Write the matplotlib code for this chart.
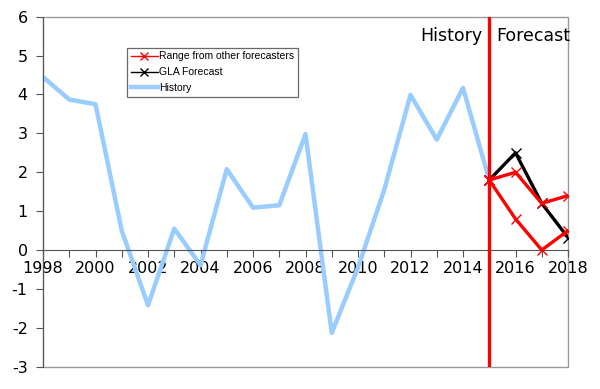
import numpy as np
import matplotlib.pyplot as plt
from matplotlib.patches import Rectangle
from matplotlib.lines import Line2D

plt.rcParams['axes.unicode_minus'] = False

# History (annual growth, %)
hist_years = list(range(1998, 2016))
hist_vals = [4.45, 3.87, 3.75, 0.5, -1.42, 0.55, -0.39, 2.08, 1.09, 1.15,
             2.98, -2.13, -0.45, 1.55, 3.99, 2.84, 4.17, 1.80]

# Forecasts
fc_years = [2015, 2016, 2017, 2018]
gla_vals = [1.80, 2.50, 1.20, 0.32]
range_hi = [1.80, 2.00, 1.20, 1.40]
range_lo = [1.80, 0.80, 0.00, 0.50]

fig = plt.figure(figsize=(6.0, 3.89), dpi=100)
ax = fig.add_axes([43 / 600, 1 - 366.7 / 389, 525 / 600, 350 / 389])

ax.plot(fc_years, range_hi, color='#ff0000', lw=2.4, marker='x', ms=7, mew=1.0, zorder=4)
ax.plot(fc_years, range_lo, color='#ff0000', lw=2.4, marker='x', ms=7, mew=1.0, zorder=4)
ax.plot(fc_years, gla_vals, color='black', lw=2.4, marker='x', ms=7, mew=1.0, zorder=3)
ax.plot(hist_years, hist_vals, color='#99ccff', lw=3.2, zorder=2)

ax.axvline(2015, color='#ff0000', lw=2.4, zorder=5)

ax.set_xlim(1998, 2018)
ax.set_ylim(-3, 6)

years = list(range(1998, 2019))
ax.set_xticks(years)
ax.set_xticklabels([str(y) if y % 2 == 0 else '' for y in years])
ax.set_yticks(range(-3, 7))

for s in ['top', 'right']:
    ax.spines[s].set_visible(False)
ax.spines['bottom'].set_position(('data', 0))
ax.spines['bottom'].set_color('#555555')
ax.spines['left'].set_color('#555555')
ax.tick_params(axis='both', direction='out', length=5, color='#555555',
               labelsize=11.5)
ax.tick_params(axis='x', pad=3)
ax.tick_params(axis='y', pad=6)

ax.add_patch(Rectangle((0, 0), 1, 1, transform=ax.transAxes, fill=False,
                       edgecolor='#999999', lw=1.0, zorder=1, clip_on=False))

ax.text(2014.75, 5.5, 'History', ha='right', va='center', fontsize=12.5)
ax.text(2015.25, 5.5, 'Forecast', ha='left', va='center', fontsize=12.5)

handles = [
    Line2D([], [], color='#ff0000', lw=1.0, marker='x', ms=6, mew=1.0),
    Line2D([], [], color='black', lw=1.0, marker='x', ms=6, mew=1.0),
    Line2D([], [], color='#99ccff', lw=3.2),
]
labels = ['Range from other forecasters', 'GLA Forecast', 'History']
leg = ax.legend(handles, labels, loc='upper left', bbox_to_anchor=(0.16, 0.911),
                prop={'family': 'Liberation Sans', 'size': 7.5},
                frameon=True, fancybox=False, handlelength=2.6,
                borderpad=0.35, labelspacing=0.55, handletextpad=0.1,
                borderaxespad=0)
leg.get_frame().set_edgecolor('#444444')
leg.get_frame().set_linewidth(0.9)

fig.savefig('out.png', dpi=100)
